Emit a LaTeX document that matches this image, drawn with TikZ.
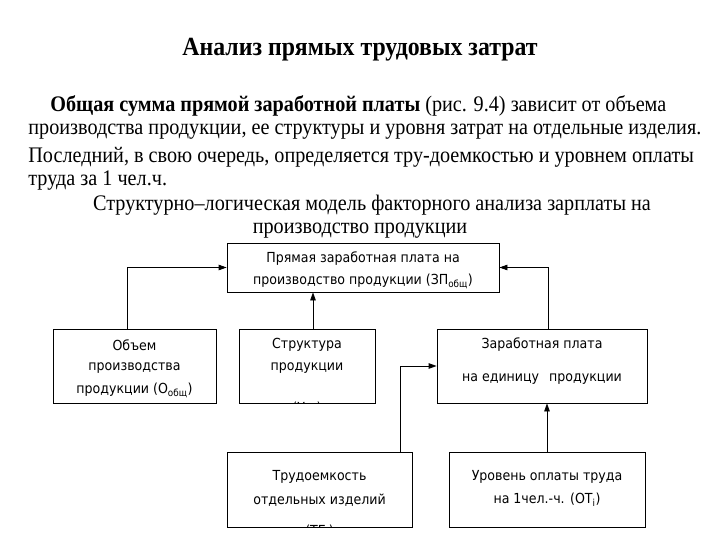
\documentclass[tikz,border=0pt]{standalone}
\usepackage{fontspec}
\setmainfont{Liberation Serif}
\newfontfamily\boxfont{DejaVu Sans}
\usetikzlibrary{arrows.meta}
\newcommand{\tall}[1]{\scalebox{1}[1.1]{#1}}

\begin{document}
\begin{tikzpicture}[x=1pt, y=-1pt, line width=0.8pt,
  every node/.style={inner sep=0pt},
  >={Triangle[length=8pt,width=5.5pt]},
  blok/.style={draw, line width=0.8pt},
  txt/.style={font=\fontsize{20.2}{24}\selectfont, anchor=west},
  btxt/.style={font=\boxfont\fontsize{12.6}{15}\selectfont}]
\useasboundingbox (0,0) rectangle (720,540);
% heading and text
\node[font=\bfseries\fontsize{23.8}{28}\selectfont] (title) at (360,50) {\tall{Анализ прямых трудовых затрат}};
\node[txt] (p1) at (50,106) {\tall{\textbf{Общая сумма прямой заработной платы} (рис. 9.4) зависит от объема}};
\node[txt] (p2) at (28,132) {\tall{производства продукции, ее структуры и уровня затрат на отдельные изделия.}};
\node[txt] (p3) at (28,157) {\tall{Последний, в свою очередь, определяется тру-доемкостью и уровнем оплаты}};
\node[txt] (p4) at (28,181) {\tall{труда за 1 чел.ч.}};
\node[txt, anchor=center] (c1) at (372,205) {\tall{Структурно–логическая модель факторного анализа зарплаты на}};
\node[txt, anchor=center] (c2) at (360,231) {\tall{производство продукции}};
% boxes
\node[blok, minimum width=272pt, minimum height=49pt] (zpo) at (363,267.5) {};
\node[blok, minimum width=163pt, minimum height=74pt] (ob) at (134.5,366) {};
\node[blok, minimum width=136pt, minimum height=74pt] (st) at (307,366) {};
\node[blok, minimum width=210pt, minimum height=74pt] (zp) at (542,366) {};
\node[blok, minimum width=185pt, minimum height=75pt] (te) at (319.5,489.5) {};
\node[blok, minimum width=196pt, minimum height=75pt] (ot) at (547,489.5) {};
% box texts
\node[btxt] at (363,259) {\tall{Прямая заработная плата на}};
\node[btxt] at (363,281) {\tall{производство продукции (ЗП\textsubscript{общ})}};
\node[btxt] at (134.5,345) {\tall{Объем}};
\node[btxt] at (134.5,368) {\tall{производства}};
\node[btxt] at (134.5,390) {\tall{продукции (О\textsubscript{общ})}};
\node[btxt] at (307,345) {\tall{Структура}};
\node[btxt] at (307,368) {\tall{продукции}};
\node[btxt] at (542,345) {\tall{Заработная плата}};
\node[btxt] at (542,379) {\tall{на единицу\hspace{10pt}продукции}};
\node[btxt] at (319.5,477) {\tall{Трудоемкость}};
\node[btxt] at (319.5,500) {\tall{отдельных изделий}};
\node[btxt] at (547,477) {\tall{Уровень оплаты труда}};
\node[btxt] at (547,500) {\tall{на 1чел.-ч. (ОТ\textsubscript{i})}};
% cut-off last lines
\begin{scope}
\clip (st.south west) rectangle (st.north east);
\node[btxt] at (307,409) {\tall{(Уд\textsubscript{i})}};
\end{scope}
\begin{scope}
\clip (zp.south west) rectangle (zp.north east);
\node[btxt] at (542,411) {\tall{(УЗП\textsubscript{i})}};
\end{scope}
\begin{scope}
\clip (te.south west) rectangle (te.north east);
\node[btxt] at (319.5,532) {\tall{(ТЕ\textsubscript{i})}};
\end{scope}
% connectors
\coordinate (obt) at ([xshift=-7.5pt]ob.north);
\coordinate (stt) at ([xshift=6pt]st.north);
\coordinate (zpt) at ([xshift=6pt]zp.north);
\coordinate (tet) at ([xshift=80.5pt]te.north);
\draw[->] (obt) |- (zpo.west);
\draw[->] (stt) -- (stt |- zpo.south);
\draw[->] (zpt) |- (zpo.east);
\draw[->] (tet) |- (zp.west);
\draw[->] (ot.north) -- (ot.north |- zp.south);
\end{tikzpicture}
\end{document}
